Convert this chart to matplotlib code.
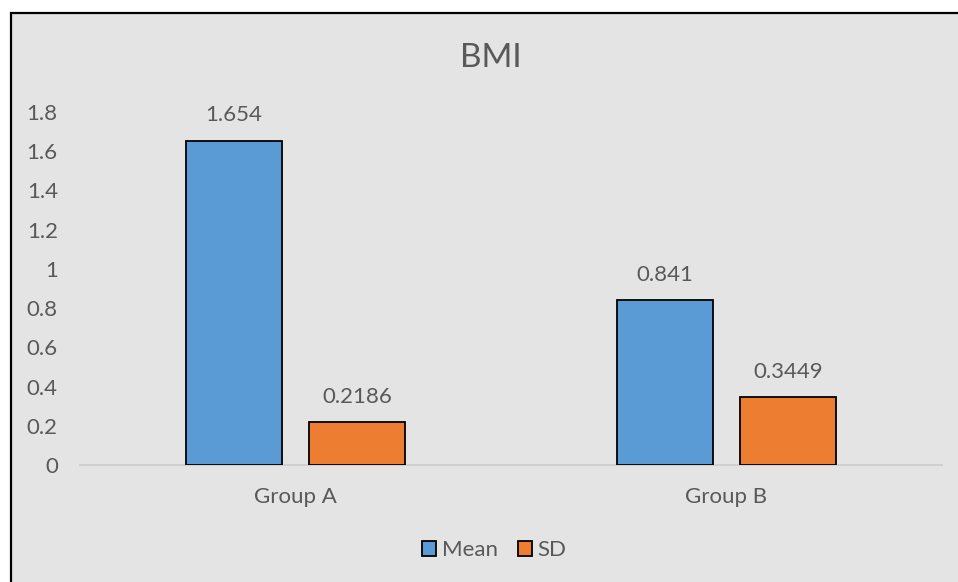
import matplotlib
matplotlib.use("Agg")
import matplotlib.pyplot as plt
from matplotlib.patches import Rectangle
import numpy as np

plt.rcParams['font.family'] = ['Lato', 'DejaVu Sans']

categories = ["Group A", "Group B"]
series_names = ["Mean", "SD"]
mean_vals = [1.654, 0.841]
sd_vals = [0.2186, 0.3449]
mean_labels = ["1.654", "0.841"]
sd_labels = ["0.2186", "0.3449"]
y_ticks = [0, 0.2, 0.4, 0.6, 0.8, 1.0, 1.2, 1.4, 1.6, 1.8]
y_tick_labels = ["0", "0.2", "0.4", "0.6", "0.8", "1", "1.2", "1.4", "1.6", "1.8"]

W, H = 958, 582
fig = plt.figure(figsize=(W / 100, H / 100), dpi=100)
fig.patch.set_facecolor("white")

bg = "#E4E4E4"
txt = "#595959"

# chart area with black border (cropped at right/bottom)
fig.patches.append(Rectangle((10.5 / W, -0.05), 1.2, (H - 12.5) / H + 0.05,
                             transform=fig.transFigure, facecolor=bg,
                             edgecolor="black", linewidth=1.6, zorder=-5))

ax = fig.add_axes([80 / W, 117 / H, 862 / W, 353 / H])
ax.set_facecolor("none")

x = np.arange(len(categories))
bw = 0.223
off = 0.1427
b1 = ax.bar(x - off, mean_vals, bw, color="#5B9BD5", edgecolor="black", linewidth=1.3, label=series_names[0], zorder=3)
b2 = ax.bar(x + off, sd_vals, bw, color="#ED7D31", edgecolor="black", linewidth=1.3, label=series_names[1], zorder=3)

fs = 16
for bars, labs in ((b1, mean_labels), (b2, sd_labels)):
    for r, lab in zip(bars, labs):
        ax.annotate(lab, (r.get_x() + r.get_width() / 2, r.get_height()),
                    xytext=(0, 11), textcoords="offset points",
                    ha="center", va="bottom", fontsize=fs, color=txt)

ax.set_xlim(-0.5, 1.5)
ax.set_ylim(0, 1.8)
ax.set_yticks(y_ticks)
ax.set_yticklabels(y_tick_labels)
ax.set_xticks(x)
ax.set_xticklabels(categories)
ax.tick_params(axis="y", length=0, pad=16, labelsize=fs, labelcolor=txt)
ax.tick_params(axis="x", length=0, pad=16, labelsize=fs, labelcolor=txt)
for s in ["top", "right", "left"]:
    ax.spines[s].set_visible(False)
ax.spines["bottom"].set_color("#D0D0D0")
ax.spines["bottom"].set_linewidth(1.5)

fig.text(491 / W, (H - 58) / H, "BMI", ha="center", va="center", fontsize=24, color=txt)

leg = fig.legend(handles=[b1, b2], labels=series_names, loc="center",
                 bbox_to_anchor=(494 / W, (H - 550) / H), ncol=2, frameon=False,
                 fontsize=fs, handlelength=0.65, handleheight=0.65, handletextpad=0.25,
                 columnspacing=0.9, labelcolor=txt)

fig.savefig("out.png", dpi=100, facecolor=fig.get_facecolor())
